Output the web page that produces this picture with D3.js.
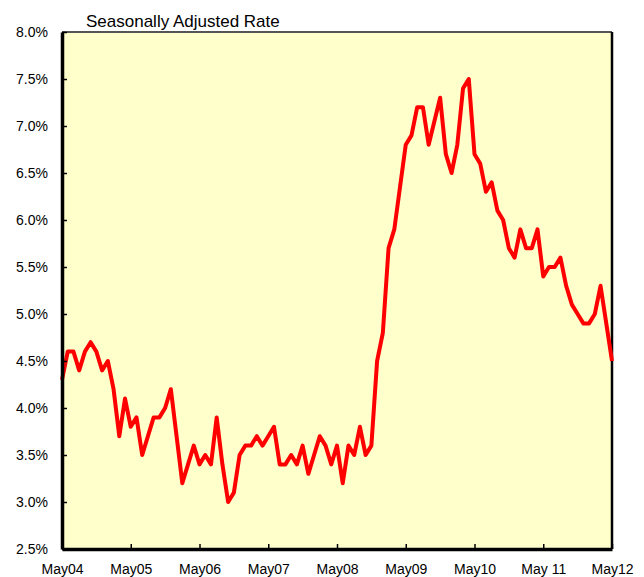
<!DOCTYPE html>
<html>
<head>
<meta charset="utf-8">
<script src="https://cdn.jsdelivr.net/npm/d3@7"></script>
<style>
body { margin: 0; background: #fff; }
svg { display: block; font-family: "Liberation Sans", Arial, sans-serif; }
</style>
</head>
<body>
<svg></svg>
<script>
// monthly rate, May04 .. May12
var rates = [
    4.3, 4.6, 4.6, 4.4, 4.6, 4.7, 4.6, 4.4, 4.5, 4.2, 3.7, 4.1,
    3.8, 3.9, 3.5, 3.7, 3.9, 3.9, 4.0, 4.2, 3.7, 3.2, 3.4, 3.6,
    3.4, 3.5, 3.4, 3.9, 3.4, 3.0, 3.1, 3.5, 3.6, 3.6, 3.7, 3.6,
    3.7, 3.8, 3.4, 3.4, 3.5, 3.4, 3.6, 3.3, 3.5, 3.7, 3.6, 3.4,
    3.6, 3.2, 3.6, 3.5, 3.8, 3.5, 3.6, 4.5, 4.8, 5.7, 5.9, 6.35,
    6.8, 6.9, 7.2, 7.2, 6.8, 7.05, 7.3, 6.7, 6.5, 6.8, 7.4, 7.5,
    6.7, 6.6, 6.3, 6.4, 6.1, 6.0, 5.7, 5.6, 5.9, 5.7, 5.7, 5.9,
    5.4, 5.5, 5.5, 5.6, 5.3, 5.1, 5.0, 4.9, 4.9, 5.0, 5.3, 4.9,
    4.5
];
var xLabels = ['May04', 'May05', 'May06', 'May07', 'May08', 'May09', 'May10', 'May 11', 'May12'];
var xTickIndex = [0, 12, 24, 36, 48, 60, 72, 84, 96];
var yTicks = [2.5, 3.0, 3.5, 4.0, 4.5, 5.0, 5.5, 6.0, 6.5, 7.0, 7.5, 8.0];
var title = 'Seasonally Adjusted Rate';

var svgWidth = 644, svgHeight = 577;
var margin = { top: 32, right: 32, bottom: 28, left: 62 };
var width = svgWidth - margin.left - margin.right;
var height = svgHeight - margin.top - margin.bottom;

var svg = d3.select('svg')
    .attr('width', svgWidth)
    .attr('height', svgHeight);

var g = svg.append('g')
    .attr('transform', 'translate(' + margin.left + ',' + margin.top + ')');

var x = d3.scaleLinear()
    .domain([0, rates.length - 1])
    .range([0, width]);

var y = d3.scaleLinear()
    .domain([2.5, 8.0])
    .range([height, 0]);

// plot background + frame
g.append('rect')
    .attr('width', width)
    .attr('height', height)
    .attr('fill', '#FFFFCC');

g.append('line')
    .attr('x1', 0).attr('x2', width)
    .attr('y1', 0).attr('y2', 0)
    .attr('stroke', '#555')
    .attr('stroke-width', 2);

g.append('line')
    .attr('x1', width).attr('x2', width)
    .attr('y1', 0).attr('y2', height)
    .attr('stroke', '#000')
    .attr('stroke-width', 2.5);

var line = d3.line()
    .x(function(d, i) { return x(i); })
    .y(function(d) { return y(d); });

g.append('path')
    .datum(rates)
    .attr('fill', 'none')
    .attr('stroke', '#FF0000')
    .attr('stroke-width', 4)
    .attr('stroke-linejoin', 'round')
    .attr('d', line);

var yAxis = g.append('g')
    .call(d3.axisLeft(y)
        .tickValues(yTicks)
        .tickFormat(function(d) { return d.toFixed(1) + '%'; })
        .tickSizeInner(-5)
        .tickSizeOuter(0)
        .tickPadding(14));

var xAxis = g.append('g')
    .attr('transform', 'translate(0,' + height + ')')
    .call(d3.axisBottom(x)
        .tickValues(xTickIndex)
        .tickFormat(function(d, i) { return xLabels[i]; })
        .tickSizeInner(-5)
        .tickSizeOuter(0)
        .tickPadding(15));

[yAxis, xAxis].forEach(function(a) {
    a.select('.domain').attr('stroke', '#000').attr('stroke-width', 3.5);
    a.selectAll('.tick line').attr('stroke', '#000').attr('stroke-width', 1.5);
    a.selectAll('.tick text')
        .attr('fill', '#000')
        .style('font-size', '14px')
        .style('font-family', '"Liberation Sans", Arial, sans-serif');
});

svg.append('text')
    .attr('x', 86)
    .attr('y', 27)
    .style('font-size', '17px')
    .attr('fill', '#000')
    .text(title);
</script>
</body>
</html>
